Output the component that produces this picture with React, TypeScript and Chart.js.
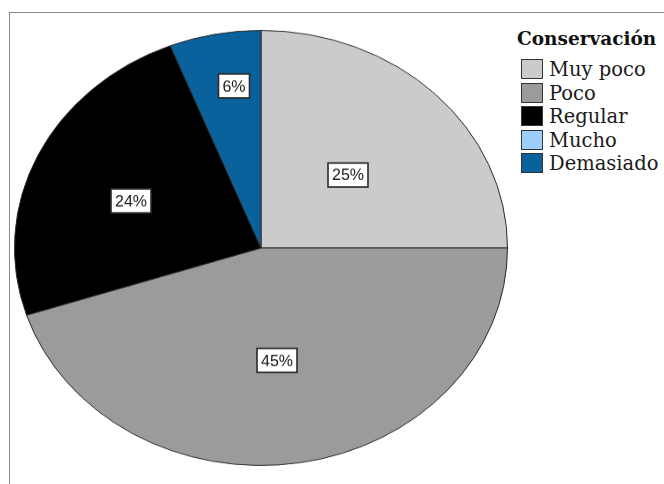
import React, { useEffect, useRef } from "react";
import { Chart, registerables } from "chart.js";

Chart.register(...registerables);

const categories = ["Muy poco", "Poco", "Regular", "Mucho", "Demasiado"];
const values = [25, 45, 24, 0, 6];
const percentLabels = ["25%", "45%", "24%", "", "6%"];
const colors = ["#cbcbcb", "#9b9b9b", "#000000", "#9dcdfb", "#0a629d"];
const legendTitle = "Conservación";

const PIE_SIZE = 494;
const SCALE_Y = 0.8824;
const LABEL_RADIUS = [0.488, 0.521, 0.57, 0.5, 0.753];
const LABEL_ANGLE_SHIFT = [1.6, 1.8, -2.9, 0, 2.4];

const labelPlugin = {
  id: "pctLabels",
  afterDatasetsDraw(chart: any) {
    const ctx = chart.ctx as CanvasRenderingContext2D;
    const meta = chart.getDatasetMeta(0);
    ctx.save();
    ctx.font = '16px "Liberation Sans", Arial, sans-serif';
    ctx.textAlign = "center";
    ctx.textBaseline = "middle";
    meta.data.forEach((arc: any, i: number) => {
      const text = percentLabels[i];
      if (!text || !values[i]) return;
      const p = arc.getProps(["x", "y", "startAngle", "endAngle", "outerRadius"], true);
      const mid = (p.startAngle + p.endAngle) / 2 + (LABEL_ANGLE_SHIFT[i] * Math.PI) / 180;
      const r = p.outerRadius * LABEL_RADIUS[i];
      const x = p.x + Math.cos(mid) * r;
      const y = p.y + Math.sin(mid) * r;
      ctx.save();
      ctx.translate(Math.round(x), y);
      ctx.scale(1, 1 / SCALE_Y);
      const w = Math.round(ctx.measureText(text).width + 8);
      const h = 24;
      ctx.fillStyle = "#ffffff";
      ctx.fillRect(-w / 2, -h / 2, w, h);
      ctx.strokeStyle = "#2a2a2a";
      ctx.lineWidth = 1.6;
      ctx.strokeRect(-w / 2, -h / 2, w, h);
      ctx.fillStyle = "#1a1a1a";
      ctx.fillText(text, 0, 1);
      ctx.restore();
    });
    ctx.restore();
  },
};

function PieChart() {
  const ref = useRef<HTMLCanvasElement | null>(null);
  useEffect(() => {
    if (!ref.current) return;
    const chart = new Chart(ref.current, {
      type: "pie",
      data: {
        labels: categories,
        datasets: [
          {
            data: values,
            backgroundColor: colors,
            borderColor: "#2a2a2a",
            borderWidth: 1,
          },
        ],
      },
      options: {
        responsive: false,
        animation: false,
        devicePixelRatio: 1,
        layout: { padding: 0 },
        plugins: {
          legend: { display: false },
          tooltip: { enabled: false },
          title: { display: false },
        },
      },
      plugins: [labelPlugin],
    });
    return () => chart.destroy();
  }, []);
  return (
    <canvas
      ref={ref}
      width={PIE_SIZE}
      height={PIE_SIZE}
      style={{
        position: "absolute",
        left: 14,
        top: 30,
        width: PIE_SIZE,
        height: PIE_SIZE,
        transform: `scaleY(${SCALE_Y})`,
        transformOrigin: "0 0",
      }}
    />
  );
}

export default function App() {
  return (
    <div
      style={{
        position: "fixed",
        left: 0,
        top: 0,
        width: 664,
        height: 484,
        background: "#ffffff",
        overflow: "hidden",
      }}
    >
      <div
        style={{
          position: "absolute",
          left: 9,
          top: 12,
          width: 700,
          height: 600,
          borderLeft: "1px solid #8a8a8a",
          borderTop: "1px solid #8a8a8a",
        }}
      />
      <PieChart />
      <div
        style={{
          position: "absolute",
          left: 517,
          top: 28,
          lineHeight: "20px",
          font: 'bold 18.5px "DejaVu Serif", serif',
          color: "#111",
          whiteSpace: "nowrap",
        }}
      >
        {legendTitle}
      </div>
      {categories.map((c, i) => (
        <div
          key={c}
          style={{
            position: "absolute",
            left: 521,
            top: 59 + i * 23.5,
            height: 20,
            display: "flex",
            alignItems: "center",
            whiteSpace: "nowrap",
          }}
        >
          <div
            style={{
              width: 22,
              height: 20,
              boxSizing: "border-box",
              background: colors[i],
              border: "1.5px solid #333",
            }}
          />
          <div
            style={{
              marginLeft: 6,
              font: '19.5px "DejaVu Serif", serif',
              lineHeight: "20px",
              color: "#1a1a1a",
              position: "relative",
              top: 1,
            }}
          >
            {c}
          </div>
        </div>
      ))}
    </div>
  );
}
